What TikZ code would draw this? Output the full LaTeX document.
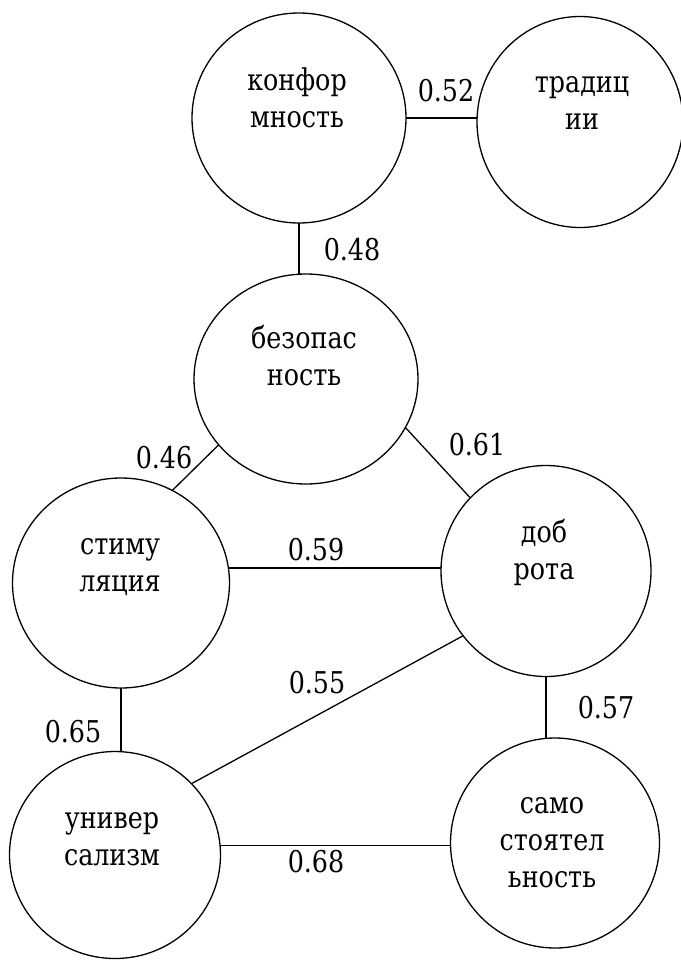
\documentclass[tikz,border=0pt]{standalone}
\usepackage{fontspec}
\IfFontExistsTF{DejaVu Serif Condensed}{\newfontfamily\serf{DejaVu Serif Condensed}[FakeStretch=0.94]}{\newfontfamily\serf{DejaVu Serif}[FakeStretch=0.85]}
\usetikzlibrary{shapes.geometric}
\newcommand\tlines[1]{\begin{tabular}[t]{@{}c@{}}#1\end{tabular}}
\begin{document}
\begin{tikzpicture}[x=1pt,y=-1pt,
  every node/.style={inner sep=0pt, outer sep=0pt},
  val/.style={ellipse, draw, line width=1.3pt},
  txt/.style={anchor=base, font=\serf\fontsize{30}{37}\selectfont},
  num/.style={anchor=base, font=\serf\fontsize{30}{37}\selectfont},
  link/.style={line width=1.3pt}]
\useasboundingbox (0,0) rectangle (680,960);
% circles
\node[val, minimum width=214pt, minimum height=210pt] (konf) at (299,118) {};
\node[val, minimum width=206pt, minimum height=211pt] (trad) at (580,122) {};
\node[val, minimum width=224pt, minimum height=210pt] (bez) at (306,379) {};
\node[val, minimum width=217pt, minimum height=210pt] (stim) at (121,583) {};
\node[val, minimum width=210pt, minimum height=211pt] (dobr) at (546,571) {};
\node[val, minimum width=211pt, minimum height=207pt] (univ) at (115,855) {};
\node[val, minimum width=209pt, minimum height=210pt] (samo) at (555,843) {};
% texts
\node[txt] (konft) at (297,91) {\tlines{конфор\\мность}};
\node[txt] (tradt) at (582,93) {\tlines{традиц\\ии}};
\node[txt] (bezt) at (304,348) {\tlines{безопас\\ность}};
\node[txt] (stimt) at (120,554) {\tlines{стиму\\ляция}};
\node[txt] (dobrt) at (544,542) {\tlines{доб\\рота}};
\node[txt] (univt) at (112,828) {\tlines{универ\\сализм}};
\node[txt] (samot) at (552,813) {\tlines{само\\стоятел\\ьность}};
% connectors
\draw[link] (konf.east) -- (konf.east -| trad.west);
\draw[link] (konf.south) -- (konf.south |- bez.north);
\draw[link] (bez.217) -- (stim.61);
\draw[link] (bez.334) -- (dobr.136);
\draw[link] (stim.8) -- (stim.8 -| dobr.west);
\draw[link] (dobr.218) -- (univ.43);
\draw[link] (dobr.south) -- (dobr.south |- samo.north);
\draw[link] (stim.south) -- (stim.south |- univ.north);
\draw[link] (univ.5) -- (univ.5 -| samo.west);
% labels
\node[num] (l52) at (446,102) {0.52};
\node[num] (l48) at (352,260) {0.48};
\node[num] (l46) at (164,468) {0.46};
\node[num] (l61) at (477,455) {0.61};
\node[num] (l59) at (316,560) {0.59};
\node[num] (l55) at (317,693) {0.55};
\node[num] (l57) at (606,718) {0.57};
\node[num] (l65) at (73,742) {0.65};
\node[num] (l68) at (316,872) {0.68};
\end{tikzpicture}
\end{document}
